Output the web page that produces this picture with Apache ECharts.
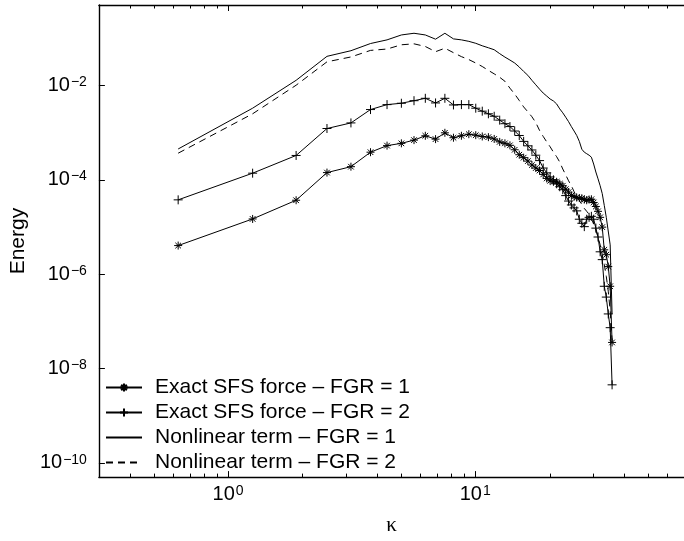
<!DOCTYPE html>
<html><head><meta charset="utf-8">
<script src="https://cdn.jsdelivr.net/npm/echarts@6/dist/echarts.min.js"></script>
<style>html,body{margin:0;padding:0;background:#fff}#c{width:684px;height:541px}</style>
</head><body><div id="c"></div>
<script>
// wavenumbers kappa
const KAPPA = [0.628,1.257,1.885,2.513,3.142,3.770,4.398,5.027,5.655,6.283,6.912,7.540,8.168,8.796,9.425,10.053,10.681,11.310,11.938,12.566,13.195,13.823,14.451,15.080,15.708,16.336,16.965,17.593,18.221,18.850,19.478,20.106,20.735,21.363,21.991,22.619,23.248,23.876,24.504,25.133,25.761,26.389,27.018,27.646,28.274,28.903,29.531,30.159,30.788,31.416,32.044,32.673,33.301,33.929,34.558,35.186,35.814];
// Exact SFS force - FGR = 1  (asterisk)
const SFS1 = [4.01e-6,1.47e-5,3.66e-5,1.41e-4,1.88e-4,3.81e-4,5.25e-4,5.87e-4,6.87e-4,8.49e-4,7.21e-4,9.81e-4,7.72e-4,8.49e-4,9.17e-4,8.74e-4,8.21e-4,7.94e-4,7.28e-4,6.30e-4,5.87e-4,5.33e-4,4.29e-4,3.37e-4,2.92e-4,2.47e-4,2.04e-4,1.76e-4,1.56e-4,1.29e-4,1.06e-4,9.44e-5,9.00e-5,9.00e-5,8.17e-5,7.42e-5,6.27e-5,5.43e-5,4.59e-5,4.37e-5,4.17e-5,4.07e-5,4.03e-5,3.79e-5,3.66e-5,3.79e-5,3.84e-5,3.28e-5,2.70e-5,2.13e-5,1.59e-5,9.86e-6,3.26e-6,2.57e-6,1.44e-6,5.51e-7,3.56e-8];
// Exact SFS force - FGR = 2  (plus)
const SFS2 = [3.73e-5,1.37e-4,3.25e-4,1.21e-3,1.59e-3,3.05e-3,3.88e-3,4.15e-3,4.70e-3,5.28e-3,4.21e-3,5.28e-3,3.82e-3,3.88e-3,3.88e-3,3.26e-3,2.82e-3,2.48e-3,2.20e-3,1.82e-3,1.53e-3,1.33e-3,1.07e-3,8.61e-4,6.46e-4,5.20e-4,4.25e-4,3.29e-4,2.53e-4,1.76e-4,1.39e-4,1.14e-4,9.90e-5,8.17e-5,7.07e-5,6.12e-5,4.59e-5,3.52e-5,2.91e-5,2.52e-5,2.18e-5,1.45e-5,1.19e-5,1.01e-5,1.45e-5,1.59e-5,1.67e-5,1.45e-5,9.39e-6,6.09e-6,2.96e-6,2.02e-6,5.51e-7,3.25e-7,1.43e-7,7.31e-8,4.50e-9];
// Nonlinear term - FGR = 1  (solid)
const NL1 = [4.46e-4,3.26e-3,1.27e-2,4.09e-2,5.38e-2,7.64e-2,9.13e-2,0.116,0.126,0.116,0.0944,0.126,0.0958,0.0913,0.0849,0.0772,0.0684,0.0621,0.0564,0.0466,0.0394,0.0341,0.0295,0.0243,0.0196,0.0162,0.0127,0.0102,8.25e-3,6.81e-3,5.89e-3,5.10e-3,4.63e-3,4.01e-3,3.15e-3,2.60e-3,2.10e-3,1.69e-3,1.33e-3,1.07e-3,8.61e-4,6.46e-4,4.40e-4,3.81e-4,3.54e-4,3.29e-4,2.99e-4,2.14e-4,1.45e-4,1.04e-4,7.42e-5,5.05e-5,2.84e-5,1.59e-5,1.45e-5,4.15e-6,1.43e-7];
// Nonlinear term - FGR = 2  (dashed)
const NL2 = [3.63e-4,2.48e-3,1.00e-2,3.13e-2,3.97e-2,5.46e-2,5.84e-2,7.18e-2,7.53e-2,6.61e-2,5.13e-2,6.07e-2,4.89e-2,4.03e-2,3.49e-2,2.95e-2,2.49e-2,2.06e-2,1.74e-2,1.47e-2,1.21e-2,8.66e-3,6.49e-3,4.75e-3,3.47e-3,2.73e-3,2.15e-3,1.61e-3,1.10e-3,8.21e-4,6.30e-4,4.96e-4,3.81e-4,3.06e-4,2.35e-4,1.68e-4,1.26e-4,9.44e-5,7.42e-5,5.56e-5,4.37e-5,3.61e-5,2.98e-5,2.46e-5,2.13e-5,1.84e-5,1.52e-5,1.14e-5,8.53e-6,6.09e-6,4.15e-6,2.57e-6,1.59e-6,8.91e-7,4.33e-7,1.66e-7,3.92e-8];

const SERIES_NAMES = ['Exact SFS force \u2013 FGR = 1','Exact SFS force \u2013 FGR = 2','Nonlinear term \u2013 FGR = 1','Nonlinear term \u2013 FGR = 2'];
const X_MIN = 0.3, X_MAX = 70, Y_MIN = 5e-11, Y_MAX = 0.5;
const X_MAJOR = [1, 10];
const X_MINOR = [0.3,0.4,0.5,0.6,0.7,0.8,0.9,2,3,4,5,6,7,8,9,20,30,40,50,60,70];
const Y_MAJOR = [1e-10,1e-8,1e-6,1e-4,1e-2];

const FONT = "'Liberation Sans', Arial, Helvetica, sans-serif";
const STAR = 'path://M5,0L5,10M0,5L10,5M1.5,1.5L8.5,8.5M8.5,1.5L1.5,8.5';
const PLUS = 'path://M5,0L5,10M0,5L10,5';

function pow10Label(v){
  const e = Math.round(Math.log10(v));
  return '{b|10}{e|' + (e < 0 ? '\u2212' : '') + Math.abs(e) + '}';
}
const RICH = {
  b:{fontSize:20, lineHeight:20, fontFamily:FONT, color:'#000', verticalAlign:'bottom'},
  e:{fontSize:14, lineHeight:14, fontFamily:FONT, color:'#000', verticalAlign:'top', padding:[0,0,12,1]}
};
const AXLINE = {show:true, onZero:false, lineStyle:{color:'#000', width:1.4}};

function pairs(arr){ return KAPPA.map((k,i)=>[k, arr[i]]); }

const chart = echarts.init(document.getElementById('c'), null, {renderer:'canvas'});
chart.setOption({
  animation:false,
  backgroundColor:'#fff',
  grid:{left:86, top:5, width:607, height:478},
  xAxis:[
    {type:'log', min:X_MIN, max:X_MAX, position:'bottom', axisLine:AXLINE, splitLine:{show:false},
      axisTick:{show:false},
      axisLabel:{show:true, customValues:X_MAJOR, margin:7, formatter:pow10Label, rich:RICH},
      name:'\u03ba', nameLocation:'middle', nameGap:33,
      nameTextStyle:{fontFamily:"'Liberation Serif','DejaVu Serif',serif", fontSize:21, color:'#000'}},
    {type:'log', min:X_MIN, max:X_MAX, position:'top', axisLine:AXLINE, splitLine:{show:false},
      axisTick:{show:false}, axisLabel:{show:false}}
  ],
  yAxis:[
    {type:'log', min:Y_MIN, max:Y_MAX, position:'left', splitLine:{show:false},
      axisLine:AXLINE, axisTick:{show:false},
      axisLabel:{show:true, customValues:Y_MAJOR, margin:12, formatter:pow10Label, rich:RICH},
      name:'Energy', nameLocation:'middle', nameGap:51,
      nameTextStyle:{fontFamily:FONT, fontSize:21, color:'#000'}}
  ],
  legend:{
    orient:'vertical', left:105, top:375, padding:0, itemGap:0, itemWidth:36, itemHeight:10,
    selectedMode:false,
    textStyle:{fontFamily:FONT, fontSize:21, color:'#000', lineHeight:25, padding:[0,0,0,8]},
    data:[
      {name:SERIES_NAMES[0]},
      {name:SERIES_NAMES[1]},
      {name:SERIES_NAMES[2], itemStyle:{opacity:0}},
      {name:SERIES_NAMES[3], itemStyle:{opacity:0}}
    ]
  },
  series:[
    {name:SERIES_NAMES[0], type:'line', xAxisIndex:0, yAxisIndex:0, data:pairs(SFS1), symbol:STAR, symbolSize:8, showAllSymbol:true,
     lineStyle:{color:'#000', width:1}, itemStyle:{color:'#000', borderColor:'#000', borderWidth:1}},
    {name:SERIES_NAMES[1], type:'line', xAxisIndex:0, yAxisIndex:0, data:pairs(SFS2), symbol:PLUS, symbolSize:9, showAllSymbol:true,
     lineStyle:{color:'#000', width:1}, itemStyle:{color:'#000', borderColor:'#000', borderWidth:1}},
    {name:SERIES_NAMES[2], type:'line', xAxisIndex:0, yAxisIndex:0, data:pairs(NL1), symbol:'none',
     lineStyle:{color:'#000', width:1}, itemStyle:{color:'#000'}},
    {name:SERIES_NAMES[3], type:'line', xAxisIndex:0, yAxisIndex:0, data:pairs(NL2), symbol:'none',
     lineStyle:{color:'#000', width:1, type:[7,5]}, itemStyle:{color:'#000'}}
  ]
});

// Inward tick marks, placed through the chart's own log scales
(function addTicks(){
  const px = v => chart.convertToPixel({xAxisIndex:0}, v);
  const py = v => chart.convertToPixel({yAxisIndex:0}, v);
  const top = py(Y_MAX), bottom = py(Y_MIN), left = px(X_MIN);
  const els = [];
  const st = {stroke:'#000', lineWidth:1};
  function xt(v, len){
    const x = Math.round(px(v)) + 0.5;
    els.push({type:'line', silent:true, z:100, shape:{x1:x, y1:bottom, x2:x, y2:bottom - len}, style:st});
    els.push({type:'line', silent:true, z:100, shape:{x1:x, y1:top, x2:x, y2:top + len}, style:st});
  }
  X_MAJOR.forEach(v => xt(v, 6));
  X_MINOR.forEach(v => xt(v, 3.5));
  Y_MAJOR.forEach(v => {
    const y = Math.round(py(v)) + 0.5;
    els.push({type:'line', silent:true, z:100, shape:{x1:left, y1:y, x2:left + 6, y2:y}, style:st});
  });
  chart.setOption({graphic:{elements:els}});
})();
</script></body></html>
